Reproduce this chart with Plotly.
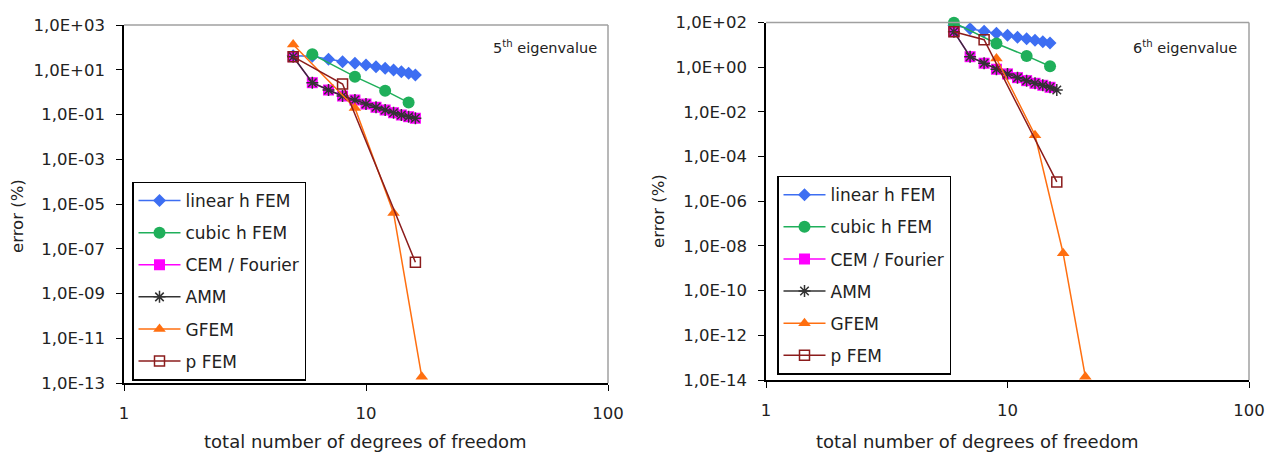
import plotly.graph_objects as go

# ---------------- data: 5th eigenvalue (left panel) ----------------
lin5_x = [5, 6, 7, 8, 9, 10, 11, 12, 13, 14, 15, 16]
lin5_y = [42, 40, 29.5, 23, 19.6, 16.4, 13.7, 11.6, 9.8, 8.2, 6.9, 5.9]
cub5_x = [6, 9, 12, 15]
cub5_y = [49, 4.9, 1.16, 0.34]
cem5_x = [5, 6, 7, 8, 9, 10, 11, 12, 13, 14, 15, 16]
cem5_y = [38.3, 2.64, 1.24, 0.67, 0.445, 0.294, 0.21, 0.159, 0.12, 0.095, 0.08, 0.068]
amm5_x = [5, 6, 7, 8, 9, 10, 11, 12, 13, 14, 15, 16]
amm5_y = [38.3, 2.64, 1.24, 0.67, 0.445, 0.294, 0.21, 0.159, 0.12, 0.095, 0.08, 0.068]
gfem5_x = [5, 9, 13, 17]
gfem5_y = [135, 0.195, 4e-6, 1.9e-13]
pfem5_x = [5, 8, 16]
pfem5_y = [38.3, 2.3, 2.5e-8]

# ---------------- data: 6th eigenvalue (right panel) ----------------
lin6_x = [6, 7, 8, 9, 10, 11, 12, 13, 14, 15]
lin6_y = [75, 52, 41, 33, 27, 22, 18.7, 16, 13.8, 12]
cub6_x = [6, 9, 12, 15]
cub6_y = [98, 11.5, 3.2, 1.1]
cem6_x = [6, 7, 8, 9, 10, 11, 12, 13, 14, 15]
cem6_y = [38.8, 2.95, 1.5, 0.81, 0.50, 0.34, 0.25, 0.19, 0.155, 0.126]
amm6_x = [6, 7, 8, 9, 10, 11, 12, 13, 14, 15, 16]
amm6_y = [38.8, 2.95, 1.5, 0.81, 0.50, 0.34, 0.25, 0.19, 0.155, 0.126, 0.096]
gfem6_x = [9, 13, 17, 21]
gfem6_y = [2.45, 9e-4, 4.7e-9, 1.4e-14]
pfem6_x = [6, 8, 16]
pfem6_y = [38.8, 17, 7.3e-6]

series_names = ["linear h FEM", "cubic h FEM", "CEM / Fourier", "AMM", "GFEM", "p FEM"]

x_tickvals = [1, 10, 100]
x_ticktext = ["1", "10", "100"]
y5_tickvals = [1e3, 1e1, 1e-1, 1e-3, 1e-5, 1e-7, 1e-9, 1e-11, 1e-13]
y5_ticktext = ["1,0E+03", "1,0E+01", "1,0E-01", "1,0E-03", "1,0E-05",
               "1,0E-07", "1,0E-09", "1,0E-11", "1,0E-13"]
y6_tickvals = [1e2, 1e0, 1e-2, 1e-4, 1e-6, 1e-8, 1e-10, 1e-12, 1e-14]
y6_ticktext = ["1,0E+02", "1,0E+00", "1,0E-02", "1,0E-04", "1,0E-06",
               "1,0E-08", "1,0E-10", "1,0E-12", "1,0E-14"]

x_title = "total number of degrees of freedom"
y_title = "error (%)"
panel5_label = "5<sup>th</sup> eigenvalue"
panel6_label = "6<sup>th</sup> eigenvalue"

# ---------------- styling ----------------
FONT = "DejaVu Sans"
FS = 16.5
TXT = "#222222"
styles = {
    "linear h FEM": dict(color="#3D6EF2", symbol="diamond", size=10, open=False),
    "cubic h FEM": dict(color="#1FAF5A", symbol="circle", size=12, open=False),
    "CEM / Fourier": dict(color="#FF00FF", symbol="square", size=11, open=False),
    "AMM": dict(color="#333333", symbol="asterisk-open", size=10, open=True),
    "GFEM": dict(color="#FF6F10", symbol="triangle-up", size=11, open=False),
    "p FEM": dict(color="#8B1C1C", symbol="square-open", size=10, open=True),
}

panel5 = [(lin5_x, lin5_y), (cub5_x, cub5_y), (cem5_x, cem5_y),
          (amm5_x, amm5_y), (gfem5_x, gfem5_y), (pfem5_x, pfem5_y)]
panel6 = [(lin6_x, lin6_y), (cub6_x, cub6_y), (cem6_x, cem6_y),
          (amm6_x, amm6_y), (gfem6_x, gfem6_y), (pfem6_x, pfem6_y)]

fig = go.Figure()


def add_panel(data, xa, ya, legend):
    for name, (xs, ys) in zip(series_names, data):
        st = styles[name]
        marker = dict(symbol=st["symbol"], size=st["size"], color=st["color"])
        if st["open"]:
            marker["line"] = dict(color=st["color"], width=1.5)
        else:
            marker["line"] = dict(width=0)
        fig.add_trace(go.Scatter(
            x=xs, y=ys, name=name, mode="lines+markers",
            line=dict(color=st["color"], width=1.5),
            marker=marker, xaxis=xa, yaxis=ya, legend=legend,
            legendgroup=legend + name, cliponaxis=False,
        ))


add_panel(panel5, "x", "y", "legend")
add_panel(panel6, "x2", "y2", "legend2")

W, H = 1279, 452
L5, R5, T5, B5 = 124, 608, 25, 383
L6, R6, T6, B6 = 766, 1249, 22.5, 380

axis_common = dict(type="log", showgrid=False, zeroline=False, showline=True,
                   linecolor="black", linewidth=1.5, ticks="outside", ticklen=6,
                   tickwidth=1.2, tickcolor="black", automargin=False,
                   tickfont=dict(family=FONT, size=FS, color=TXT))

legend_common = dict(xanchor="left", yanchor="top", bgcolor="white",
                     bordercolor="black", borderwidth=1.5, itemwidth=42,
                     font=dict(family=FONT, size=17, color=TXT), tracegroupgap=7)

fig.update_layout(
    width=W, height=H, margin=dict(l=0, r=0, t=0, b=0, autoexpand=False),
    paper_bgcolor="white", plot_bgcolor="white",
    font=dict(family=FONT, size=FS, color=TXT),
    xaxis=dict(axis_common, domain=[L5 / W, R5 / W], range=[0, 2], anchor="y",
               tickvals=x_tickvals, ticktext=x_ticktext, ticklabelstandoff=8),
    yaxis=dict(axis_common, domain=[1 - B5 / H, 1 - T5 / H], range=[-13, 3], anchor="x",
               tickvals=y5_tickvals, ticktext=y5_ticktext, ticklabelstandoff=8),
    xaxis2=dict(axis_common, domain=[L6 / W, R6 / W], range=[0, 2], anchor="y2",
                tickvals=x_tickvals, ticktext=x_ticktext, ticklabelstandoff=8),
    yaxis2=dict(axis_common, domain=[1 - B6 / H, 1 - T6 / H], range=[-14, 2], anchor="x2",
                tickvals=y6_tickvals, ticktext=y6_ticktext, ticklabelstandoff=8),
    legend=dict(legend_common, x=132 / W, y=1 - 181.5 / H),
    legend2=dict(legend_common, x=777 / W, y=1 - 175.7 / H),
    showlegend=True,
)

# grey top/right border of plot areas
for xr, yr in (("x domain", "y domain"), ("x2 domain", "y2 domain")):
    fig.add_shape(type="line", xref=xr, yref=yr, x0=0, x1=1, y0=1, y1=1,
                  line=dict(color="#A0A0A0", width=1.5))
    fig.add_shape(type="line", xref=xr, yref=yr, x0=1, x1=1, y0=0, y1=1,
                  line=dict(color="#A0A0A0", width=1.5))

annotations = [
    dict(text=x_title, x=366 / W, y=1 - 441 / H, font=dict(family=FONT, size=18, color=TXT)),
    dict(text=x_title, x=977 / W, y=1 - 441 / H, font=dict(family=FONT, size=18, color=TXT)),
    dict(text=y_title, x=17 / W, y=1 - 216 / H, textangle=-90, font=dict(family=FONT, size=FS, color=TXT)),
    dict(text=y_title, x=658 / W, y=1 - 211 / H, textangle=-90, font=dict(family=FONT, size=FS, color=TXT)),
    dict(text=panel5_label, x=545 / W, y=1 - 47 / H, font=dict(family=FONT, size=14.5, color=TXT)),
    dict(text=panel6_label, x=1185 / W, y=1 - 47 / H, font=dict(family=FONT, size=14.5, color=TXT)),
]
for a in annotations:
    fig.add_annotation(xref="paper", yref="paper", showarrow=False,
                       xanchor="center", yanchor="middle", **a)

fig.write_html("out.html", config={"displayModeBar": False},
               post_script="document.body.style.margin='0';")
